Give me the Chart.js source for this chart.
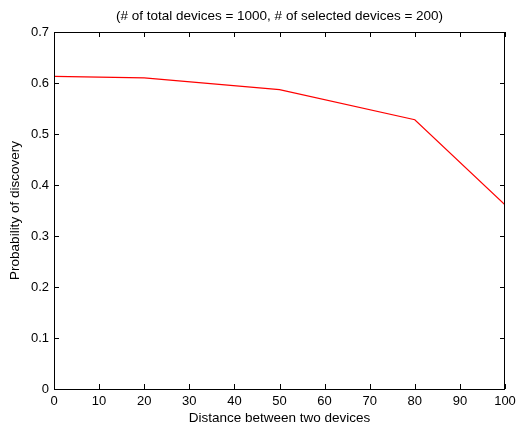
<!DOCTYPE html>
<html>
<head>
	<meta charset="utf-8">
	<title>Probability of discovery</title>
	<style>
		html, body { margin: 0; padding: 0; background: #fff; }
		.wrap { width: 516px; height: 426px; }
	</style>
</head>
<body>
	<div class="wrap"><canvas id="chart" width="516" height="426"></canvas></div>
	<script src="https://cdn.jsdelivr.net/npm/chart.js@4/dist/chart.umd.min.js"></script>
	<script>
		'use strict'

		const distances = [0, 20, 50, 80, 100]
		const probability = [0.613, 0.610, 0.587, 0.528, 0.361]
		const titleText = '(# of total devices = 1000, # of selected devices = 200)'

		const family = '"Liberation Sans", Arial, sans-serif'
		const labelFont = { family, size: 13.5 }
		const tickFont = { family, size: 13 }

		// box around the plot with matlab-style inward ticks on all four sides
		const frame = {
			id: 'frame',
			afterDraw(chart) {
				const { ctx, chartArea: a, scales } = chart
				const len = 5
				ctx.save()
				ctx.strokeStyle = '#000'
				ctx.lineWidth = 1
				ctx.strokeRect(a.left + 0.5, a.top + 0.5, a.right - a.left - 1, a.bottom - a.top)
				ctx.beginPath()
				scales.x.ticks.forEach(t => {
					const px = Math.round(scales.x.getPixelForValue(t.value)) + 0.5
					ctx.moveTo(px, a.bottom); ctx.lineTo(px, a.bottom - len)
					ctx.moveTo(px, a.top); ctx.lineTo(px, a.top + len)
				})
				scales.y.ticks.forEach(t => {
					const py = Math.round(scales.y.getPixelForValue(t.value)) + 0.5
					ctx.moveTo(a.left, py); ctx.lineTo(a.left + len, py)
					ctx.moveTo(a.right, py); ctx.lineTo(a.right - len, py)
				})
				ctx.stroke()

				ctx.fillStyle = '#000'
				ctx.font = labelFont.size + 'px ' + family
				ctx.textAlign = 'center'
				ctx.textBaseline = 'middle'
				ctx.fillText(titleText, (a.left + a.right) / 2, 16)
				ctx.restore()
			}
		}

		new Chart(document.getElementById('chart'), {
			type: 'line',
			data: {
				datasets: [{
					data: distances.map((d, i) => ({ x: d, y: probability[i] })),
					borderColor: '#ff0000',
					borderWidth: 1.2,
					pointRadius: 0,
					tension: 0
				}]
			},
			options: {
				responsive: false,
				animation: false,
				layout: { padding: { top: 32, right: 11, left: 0, bottom: 0 } },
				plugins: { legend: { display: false }, tooltip: { enabled: false } },
				scales: {
					x: {
						type: 'linear',
						min: 0, max: 100,
						grid: { display: false, drawTicks: false },
						border: { display: false },
						ticks: { stepSize: 10, padding: 5, color: '#000', font: tickFont, maxRotation: 0 },
						title: { display: true, text: 'Distance between two devices', color: '#000', font: labelFont, padding: { top: 0, bottom: 0 } },
						afterFit(s) { s.height = 37; s.paddingLeft = 0; s.paddingRight = 0 }
					},
					y: {
						min: 0, max: 0.7,
						grid: { display: false, drawTicks: false },
						border: { display: false },
						ticks: { stepSize: 0.1, padding: 5, color: '#000', font: tickFont },
						title: { display: true, text: 'Probability of discovery', color: '#000', font: labelFont, padding: { top: 7, bottom: 0 } },
						afterFit(s) { s.width = 54; s.paddingTop = 0; s.paddingBottom = 0 }
					}
				}
			},
			plugins: [frame]
		})
	</script>
</body>
</html>
